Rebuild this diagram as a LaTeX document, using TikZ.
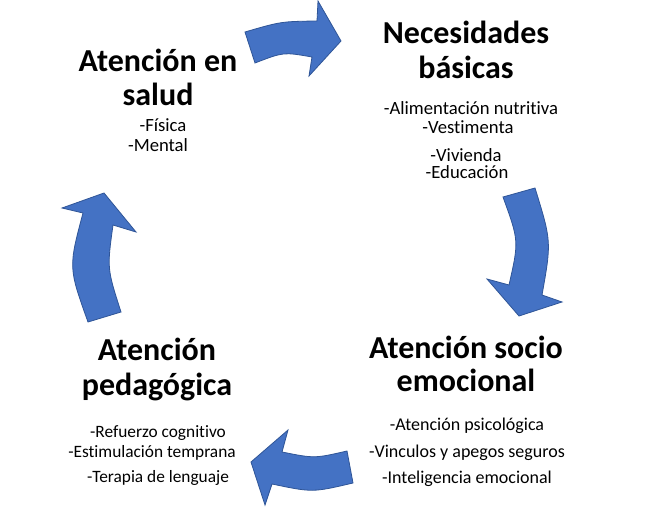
\documentclass[tikz,border=0pt]{standalone}
\usepackage{fontspec}
\setmainfont{Carlito}[Ligatures=NoCommon]
\definecolor{arrowfill}{RGB}{68,114,196}
\definecolor{arrowline}{RGB}{47,85,151}
\begin{document}
\begin{tikzpicture}[x=0.75pt,y=-0.75pt,
  title/.style={anchor=base,inner sep=0pt,font=\fontsize{24}{28}\selectfont\bfseries},
  item/.style={anchor=base,inner sep=0pt,font=\fontsize{14}{16}\selectfont},
  itemm/.style={anchor=base,inner sep=0pt,font=\fontsize{13.5}{16}\selectfont},
  items/.style={anchor=base,inner sep=0pt,font=\fontsize{13}{16}\selectfont},
  bigarrow/.style={fill=arrowfill,draw=arrowline,line width=0.6pt,line join=miter}]
\useasboundingbox[fill=white] (0,0) rectangle (646,509);

% arrows
\draw[bigarrow] (245,32) .. controls (281,21.5) .. (317,21) -- (318,1) -- (341,41) -- (309,76) -- (312,57) .. controls (283.5,52) .. (255,63) -- cycle;
\draw[bigarrow] (503,197) -- (535,188) .. controls (551.5,241.5) .. (542,295) -- (562,302) -- (519,316) -- (487,279) -- (509,285) .. controls (519,241) .. (503,197) -- cycle;
\draw[bigarrow] (347,451) -- (353,483) .. controls (312.5,492.5) .. (272,484) -- (265,505) -- (251,462) -- (288,430) -- (282,452) .. controls (314.5,458.5) .. (347,451) -- cycle;
\draw[bigarrow] (88,322) -- (121,312) .. controls (107,268.5) .. (113,225) -- (136,232) -- (104,193) -- (62,208) -- (83,213) .. controls (68.5,267.5) .. (88,322) -- cycle;

% Atención en salud
\node[title] (s1) at (158,72) {Atención en};
\node[title] (s2) at (158,106) {salud};
\node[item] (s3) at (163,132) {-Física};
\node[item] (s4) at (158,152) {-Mental};

% Necesidades básicas
\node[title] (n1) at (466,44) {Necesidades};
\node[title] (n2) at (466,79) {básicas};
\node[item] (n3) at (471,115) {-Alimentación nutritiva};
\node[item] (n4) at (468,134) {-Vestimenta};
\node[item] (n5) at (466,162) {-Vivienda};
\node[item] (n6) at (467,179) {-Educación};

% Atención socio emocional
\node[title] (e1) at (466,359) {Atención socio};
\node[title] (e2) at (466,392) {emocional};
\node[itemm] (e3) at (467,431) {-Atención psicológica};
\node[itemm] (e4) at (467,457) {-Vinculos y apegos seguros};
\node[itemm] (e5) at (467,483) {-Inteligencia emocional};

% Atención pedagógica
\node[title] (p1) at (157,361) {Atención};
\node[title] (p2) at (157,396) {pedagógica};
\node[items] (p3) at (158,437) {-Refuerzo cognitivo};
\node[items] (p4) at (152,457) {-Estimulación temprana};
\node[items] (p5) at (158,482) {-Terapia de lenguaje};
\end{tikzpicture}
\end{document}
